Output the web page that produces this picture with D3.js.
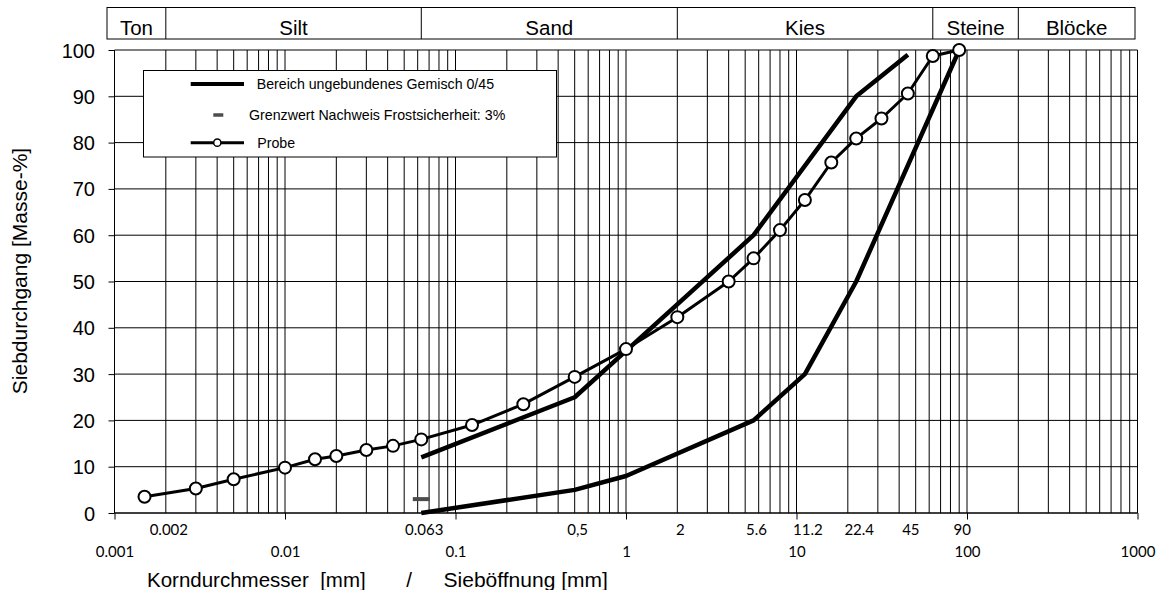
<!DOCTYPE html>
<html><head><meta charset="utf-8">
<script src="https://cdn.jsdelivr.net/npm/d3@7"></script>
<style>body{margin:0;background:#fff} svg{display:block}</style>
</head><body><svg id="c" width="1165" height="590"></svg>
<script>
// ---- data ----
const probeSieves = [0.0015, 0.003, 0.005, 0.01, 0.015, 0.02, 0.03, 0.043, 0.063, 0.125, 0.25, 0.5, 1, 2, 4, 5.6, 8, 11.2, 16, 22.4, 31.5, 45, 63, 90];
const probeValues = [3.5, 5.3, 7.3, 9.8, 11.6, 12.3, 13.6, 14.5, 15.9, 19.0, 23.5, 29.4, 35.4, 42.3, 50.0, 55.0, 61.1, 67.6, 75.7, 80.9, 85.2, 90.6, 98.7, 100];
const upperSieves = [0.063, 0.5, 1, 5.6, 22.4, 45];
const upperValues = [12, 25, 35, 60, 90, 99];
const lowerSieves = [0.063, 0.5, 1, 5.6, 11.2, 22.4, 90];
const lowerValues = [0, 5, 8, 20, 30, 50, 100];
const frostSieve = 0.063;
const frostValue = 3;
const zoneNames = ["Ton", "Silt", "Sand", "Kies", "Steine", "Blöcke"];
const zoneBounds = [0.002, 0.063, 2, 63, 200];
const decadeTicks = [0.001, 0.01, 0.1, 1, 10, 100, 1000];
const decadeLabels = ["0.001", "0.01", "0.1", "1", "10", "100", "1000"];
const sieveTicks = [0.002, 0.063, 0.5, 2, 5.6, 11.2, 22.4, 45, 90];
const sieveLabels = ["0.002", "0.063", "0,5", "2", "5.6", "11.2", "22.4", "45", "90"];
const yTicks = [0, 10, 20, 30, 40, 50, 60, 70, 80, 90, 100];
const legendLabels = ["Bereich ungebundenes Gemisch 0/45", "Grenzwert Nachweis Frostsicherheit: 3%", "Probe"];
const yTitle = "Siebdurchgang [Masse-%]";
const xTitleParts = ["Korndurchmesser  [mm]", "/", "Sieböffnung [mm]"];

// ---- layout ----
const svg = d3.select("#c");
const x = d3.scaleLog().domain([0.001, 1000]).range([114.5, 1137.5]);
const y = d3.scaleLinear().domain([0, 100]).range([513, 50]);
const ARIAL = "'Liberation Sans', Arial, sans-serif";
const NUMF = "Lato, 'Open Sans', sans-serif";

// grid values: every 1..9 multiple of each decade
const gridX = [];
decadeTicks.forEach((d, i) => {
  if (i < decadeTicks.length - 1) for (let k = 1; k < 10; k++) gridX.push(+(k * d).toPrecision(6));
});
gridX.push(1000);

const grid = svg.append("g");
grid.selectAll("line.v").data(gridX).join("line")
  .attr("x1", d => x(d)).attr("x2", d => x(d))
  .attr("y1", y(100)).attr("y2", y(0))
  .attr("stroke", "#000").attr("stroke-width", 1);
grid.selectAll("line.h").data(yTicks).join("line")
  .attr("x1", x(0.001)).attr("x2", x(1000))
  .attr("y1", d => y(d)).attr("y2", d => y(d))
  .attr("stroke", "#000").attr("stroke-width", 1);

// y axis
const yAxis = svg.append("g").attr("transform", `translate(${x(0.001)},0)`)
  .call(d3.axisLeft(y).tickValues(yTicks).tickSize(6).tickPadding(13.5).tickFormat(d3.format("d")));
yAxis.select(".domain").remove();
yAxis.selectAll("line").attr("stroke", "#000");
yAxis.selectAll("text").attr("font-family", ARIAL).attr("font-size", 20).attr("fill", "#000").attr("dy", "0.35em");

// x axis (decades)
const xAxis = svg.append("g").attr("transform", `translate(0,${y(0)})`)
  .call(d3.axisBottom(x).tickValues(decadeTicks).tickSize(6.5).tickPadding(22.5)
    .tickFormat((d, i) => decadeLabels[i]));
xAxis.select(".domain").remove();
xAxis.selectAll("line").attr("stroke", "#000");
xAxis.selectAll("text").attr("font-family", NUMF).attr("font-size", 15).attr("fill", "#000").attr("dy", null)
  .attr("y", 43.7);

// sieve labels
svg.append("g").selectAll("text").data(sieveTicks).join("text")
  .attr("x", d => x(d) + 3).attr("y", 535)
  .attr("text-anchor", "middle")
  .attr("font-family", NUMF).attr("font-size", 15)
  .text((d, i) => sieveLabels[i]);

// axis lines
svg.append("line").attr("x1", x(0.001)).attr("x2", x(0.001)).attr("y1", y(100)).attr("y2", y(0))
  .attr("stroke", "#000");
svg.append("line").attr("x1", x(0.001)).attr("x2", x(1000)).attr("y1", y(0)).attr("y2", y(0))
  .attr("stroke", "#000");

// header band
const hTop = 7.5, hBot = 39, hLeft = x(0.001) - 7.5, hRight = x(1000) - 2.5;
const head = svg.append("g");
head.append("rect").attr("x", hLeft).attr("y", hTop).attr("width", hRight - hLeft).attr("height", hBot - hTop)
  .attr("fill", "#fff").attr("stroke", "#000").attr("stroke-width", 1);
head.selectAll("line").data(zoneBounds).join("line")
  .attr("x1", d => x(d)).attr("x2", d => x(d)).attr("y1", hTop).attr("y2", hBot)
  .attr("stroke", "#000");
const edges = [hLeft, ...zoneBounds.map(x), hRight];
head.selectAll("text").data(zoneNames).join("text")
  .attr("x", (d, i) => (edges[i] + edges[i + 1]) / 2).attr("y", 35)
  .attr("text-anchor", "middle").attr("font-family", ARIAL).attr("font-size", 20.5)
  .text(d => d);

// series
const line = d3.line().x(d => x(d[0])).y(d => y(d[1]));
svg.append("path").datum(upperSieves.map((s, i) => [s, upperValues[i]]))
  .attr("d", line).attr("fill", "none").attr("stroke", "#000").attr("stroke-width", 4.5).attr("stroke-linejoin", "round");
svg.append("path").datum(lowerSieves.map((s, i) => [s, lowerValues[i]]))
  .attr("d", line).attr("fill", "none").attr("stroke", "#000").attr("stroke-width", 4.5).attr("stroke-linejoin", "round");

svg.append("line").attr("x1", x(frostSieve) - 8.5).attr("x2", x(frostSieve) + 8.5)
  .attr("y1", y(frostValue)).attr("y2", y(frostValue))
  .attr("stroke", "#4d4d4d").attr("stroke-width", 4);

const probe = probeSieves.map((s, i) => [s, probeValues[i]]);
svg.append("path").datum(probe).attr("d", line).attr("fill", "none")
  .attr("stroke", "#000").attr("stroke-width", 3).attr("stroke-linejoin", "round");
svg.append("g").selectAll("circle").data(probe).join("circle")
  .attr("cx", d => x(d[0])).attr("cy", d => y(d[1])).attr("r", 6)
  .attr("fill", "#fff").attr("stroke", "#000").attr("stroke-width", 2);

// legend
const lg = svg.append("g");
lg.append("rect").attr("x", 143.5).attr("y", 70.5).attr("width", 413).attr("height", 86.5)
  .attr("fill", "#fff").attr("stroke", "#000");
const rowsY = [84, 115, 142.7];
lg.append("line").attr("x1", 190.7).attr("x2", 244).attr("y1", rowsY[0]).attr("y2", rowsY[0])
  .attr("stroke", "#000").attr("stroke-width", 4);
lg.append("line").attr("x1", 213.3).attr("x2", 223.3).attr("y1", rowsY[1]).attr("y2", rowsY[1])
  .attr("stroke", "#4d4d4d").attr("stroke-width", 3.5);
lg.append("line").attr("x1", 190.7).attr("x2", 244).attr("y1", rowsY[2]).attr("y2", rowsY[2])
  .attr("stroke", "#000").attr("stroke-width", 3);
lg.append("circle").attr("cx", 217.3).attr("cy", rowsY[2]).attr("r", 3.6)
  .attr("fill", "#fff").attr("stroke", "#000").attr("stroke-width", 1.5);
const textX = [256.7, 249, 257.3];
lg.selectAll("text").data(legendLabels).join("text")
  .attr("x", (d, i) => textX[i]).attr("y", (d, i) => rowsY[i]).attr("dy", "0.35em")
  .attr("font-family", ARIAL).attr("font-size", 14.2).text(d => d);

// titles
svg.append("text").attr("transform", "translate(27,271) rotate(-90)")
  .attr("text-anchor", "middle").attr("font-family", ARIAL).attr("font-size", 21).text(yTitle);
svg.append("text").attr("x", 147).attr("y", 586.5).style("white-space", "pre")
  .attr("font-family", ARIAL).attr("font-size", 20.5).text(xTitleParts[0]);
svg.append("text").attr("x", 409).attr("y", 586.5).attr("text-anchor", "middle")
  .attr("font-family", ARIAL).attr("font-size", 20.5).text(xTitleParts[1]);
svg.append("text").attr("x", 443.6).attr("y", 586.5)
  .attr("font-family", ARIAL).attr("font-size", 21).text(xTitleParts[2]);
</script></body></html>
